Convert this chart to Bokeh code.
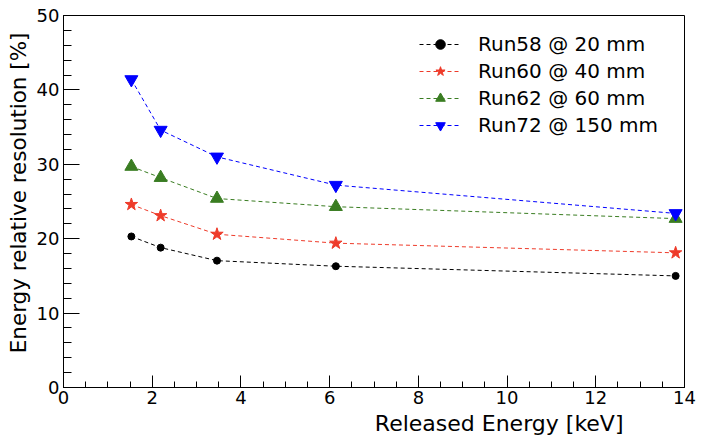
from bokeh.plotting import figure
from bokeh.models import (Range1d, SingleIntervalTicker, Legend, LegendItem, Title)
from bokeh.embed import file_html
from bokeh.resources import INLINE

energy = [1.53, 2.19, 3.46, 6.14, 13.80]
run58 = [20.3, 18.8, 17.05, 16.3, 15.0]
run60 = [24.6, 23.1, 20.6, 19.4, 18.1]
run62 = [29.7, 28.2, 25.4, 24.3, 22.7]
run72 = [41.4, 34.6, 31.0, 27.2, 23.4]
labels = ["Run58 @ 20 mm", "Run60 @ 40 mm", "Run62 @ 60 mm", "Run72 @ 150 mm"]
x_title = "Released Energy [keV]"
y_title = "Energy relative resolution [%]"

FONT = "DejaVu Sans"

p = figure(width=704, height=445, output_backend="svg", toolbar_location=None,
           x_range=Range1d(0, 14), y_range=Range1d(0, 50),
           min_border_left=62, min_border_right=20, min_border_top=15, min_border_bottom=58)
p.background_fill_color = "white"
p.border_fill_color = "white"
p.outline_line_color = "black"
p.outline_line_width = 1
p.grid.visible = False

p.xaxis.ticker = SingleIntervalTicker(interval=2, num_minor_ticks=4)
p.yaxis.ticker = SingleIntervalTicker(interval=10, num_minor_ticks=5)
for ax in (p.xaxis, p.yaxis):
    ax.major_tick_out = 0
    ax.minor_tick_out = 0
    ax.axis_line_color = "black"
    ax.major_tick_line_color = "black"
    ax.minor_tick_line_color = "black"
    ax.major_label_text_font = FONT
    ax.major_label_text_font_size = "18px"
    ax.major_label_text_color = "black"
p.xaxis.major_tick_in = 12
p.xaxis.minor_tick_in = 6
p.yaxis.major_tick_in = 16
p.yaxis.minor_tick_in = 8
p.xaxis.major_label_standoff = 3
p.yaxis.major_label_standoff = 4

styles = [
    (run58, "black", "circle", 7),
    (run60, "#ee3b2a", "star", 13),
    (run62, "#3a7d22", "triangle", 13),
    (run72, "#0000ff", "inverted_triangle", 13),
]
items = []
for (vals, col, mk, sz), lab in zip(styles, labels):
    l = p.line(energy, vals, line_color=col, line_dash="4 3", line_width=1)
    s = p.scatter(energy, vals, marker=mk, size=sz, fill_color=col, line_color=col)
    items.append(LegendItem(label=lab, renderers=[l, s]))

leg = Legend(items=items, location=(356, 250), padding=0, margin=0,
             border_line_color=None, background_fill_alpha=0,
             glyph_width=42, glyph_height=24, label_height=24, spacing=3,
             label_standoff=17, label_text_font=FONT, label_text_font_size="20px",
             label_text_color="black")
p.add_layout(leg)

p.add_layout(Title(text=x_title, align="right", offset=61, standoff=5,
                   text_font=FONT, text_font_size="22px", text_font_style="normal",
                   text_color="black"), "below")
p.add_layout(Title(text=y_title, align="right", offset=17, standoff=6,
                   text_font=FONT, text_font_size="21.5px", text_font_style="normal",
                   text_color="black"), "left")

open("out.html", "w").write(file_html(p, INLINE))
